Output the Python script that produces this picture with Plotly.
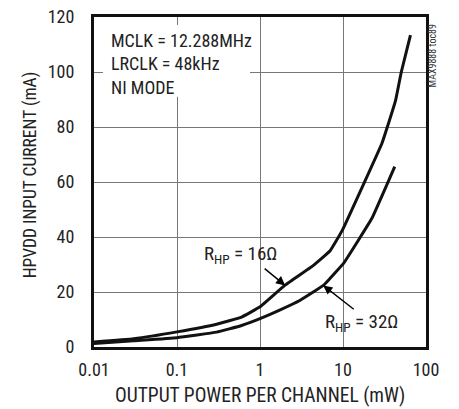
import plotly.graph_objects as go

# output power per channel (mW) and HPVDD current (mA)
power_16 = [0.01, 0.03, 0.1, 0.3, 0.6, 1.0, 2.0, 4.4, 7.0, 9.8, 18.5, 29.4, 34.2, 43.0, 50.4, 65.0]
current_16 = [1.8, 3.0, 5.5, 8.3, 10.9, 14.6, 22.5, 29.7, 35.0, 42.4, 60.5, 74.0, 80.0, 89.7, 100.0, 113.4]

power_32 = [0.01, 0.03, 0.1, 0.3, 0.6, 1.0, 1.75, 3.05, 5.8, 7.0, 10.2, 16.2, 22.3, 35.6, 42.0]
current_32 = [1.3, 2.3, 3.4, 5.4, 7.8, 10.3, 13.5, 17.0, 22.4, 25.0, 30.5, 40.0, 46.8, 60.6, 65.6]

x_ticks = [0.01, 0.1, 1, 10, 100]
x_labels = ["0.01", "0.1", "1", "10", "100"]
y_ticks = [0, 20, 40, 60, 80, 100, 120]

FONT = "Roboto Condensed, Liberation Sans Narrow, sans-serif"
INK = "#222"

fig = go.Figure()

for pw, cur in [(power_16, current_16), (power_32, current_32)]:
    fig.add_trace(go.Scatter(x=pw, y=cur, mode="lines",
                             line=dict(color="#111", width=3, shape="spline", smoothing=0.3),
                             showlegend=False, hoverinfo="skip"))

# white box behind the conditions text
fig.add_shape(type="rect", xref="paper", yref="paper",
              x0=0.027, x1=0.47, y0=0.758, y1=0.976,
              fillcolor="white", line=dict(width=0), layer="above")

fig.add_annotation(xref="paper", yref="paper", x=0.045, y=0.968,
                   xanchor="left", yanchor="top", showarrow=False, align="left",
                   text="MCLK = 12.288MHz<br>LRCLK = 48kHz<br>NI MODE",
                   font=dict(family=FONT, size=18, color=INK))

# arrows (annotation x on a log axis is given in log10 units)
fig.add_annotation(x=0.303, y=22.4, xref="x", yref="y", text="",
                   ax=-22, ay=-18, showarrow=True, arrowhead=2, arrowsize=1.3,
                   arrowwidth=1.4, arrowcolor="black")
fig.add_annotation(x=0.762, y=22.4, xref="x", yref="y", text="",
                   ax=32, ay=25, showarrow=True, arrowhead=2, arrowsize=1.3,
                   arrowwidth=1.4, arrowcolor="black")

fig.add_annotation(x=-0.24, y=33.5, xref="x", yref="y", showarrow=False,
                   text="R<sub>HP</sub> = 16Ω",
                   font=dict(family=FONT, size=19, color=INK))
fig.add_annotation(x=1.227, y=9.0, xref="x", yref="y", showarrow=False,
                   text="R<sub>HP</sub> = 32Ω",
                   font=dict(family=FONT, size=19, color=INK))

fig.add_annotation(xref="paper", yref="paper", x=1.018, y=0.985,
                   xanchor="center", yanchor="top", showarrow=False, textangle=-90,
                   text="MAX9888 toc89",
                   font=dict(family=FONT, size=10, color="#333"))

# axis titles
fig.add_annotation(xref="paper", yref="paper", x=0.5, y=-0.148,
                   xanchor="center", yanchor="middle", showarrow=False,
                   text="OUTPUT POWER PER CHANNEL (mW)",
                   font=dict(family=FONT, size=19.5, color=INK))
fig.add_annotation(xref="paper", yref="paper", x=-0.193, y=0.523,
                   xanchor="center", yanchor="middle", showarrow=False, textangle=-90,
                   text="HPVDD INPUT CURRENT (mA)",
                   font=dict(family=FONT, size=17.5, color=INK))

fig.update_xaxes(type="log", range=[-2, 2], tickvals=x_ticks, ticktext=x_labels,
                 showgrid=True, gridcolor="#777", gridwidth=1,
                 showline=True, linecolor="#111", linewidth=3, mirror=True,
                 ticks="", zeroline=False, ticklabelstandoff=4, automargin=False,
                 ticklabeloverflow="allow",
                 tickfont=dict(family=FONT, size=18, color=INK))
fig.update_yaxes(range=[0, 120], tickvals=y_ticks,
                 showgrid=True, gridcolor="#777", gridwidth=1,
                 showline=True, linecolor="#111", linewidth=3, mirror=True,
                 ticks="", zeroline=False, ticklabelstandoff=13, automargin=False,
                 ticklabeloverflow="allow",
                 tickfont=dict(family=FONT, size=18, color=INK))

# the page body adds an 8px offset, so margins are shifted to compensate
fig.update_layout(width=459, height=409,
                  margin=dict(l=86, r=41, t=9, b=70),
                  plot_bgcolor="white", paper_bgcolor="white",
                  font=dict(family=FONT, color=INK))

fig.write_html("out.html")
